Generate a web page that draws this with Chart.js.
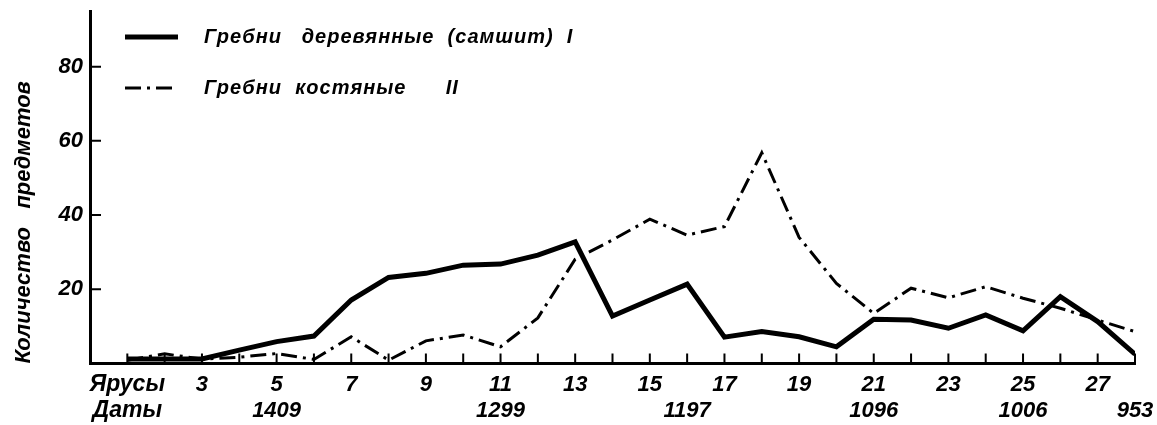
<!DOCTYPE html>
<html>
<head>
<meta charset="utf-8">
<script src="https://cdn.jsdelivr.net/npm/chart.js@4"></script>
<style>
  html, body { margin: 0; padding: 0; background: #fff; }
  #wrap { width: 1157px; height: 425px; }
</style>
</head>
<body>
<div id="wrap"><canvas id="chart" width="1157" height="425"></canvas></div>
<script>
// Ярусы (stages) 1..28
const stages = [1, 2, 3, 4, 5, 6, 7, 8, 9, 10, 11, 12, 13, 14, 15, 16, 17, 18, 19, 20, 21, 22, 23, 24, 25, 26, 27, 28];

// Гребни деревянные (самшит) — count per stage
const woodCombs = [1.2, 1.2, 1.2, 3.6, 5.9, 7.4, 17.1, 23.2, 24.3, 26.5, 26.8, 29.2, 32.8, 12.8,
                   17.1, 21.4, 7.1, 8.6, 7.2, 4.5, 11.9, 11.7, 9.5, 13.1, 8.8, 18.0, 11.3, 2.5];

// Гребни костяные — count per stage
const boneCombs = [0.9, 2.6, 1.2, 1.7, 2.7, 1.1, 7.2, 0.9, 6.1, 7.7, 4.5, 12.3, 28.1, 33.3,
                   38.9, 34.6, 36.9, 56.8, 34.0, 21.6, 13.5, 20.3, 17.7, 20.7, 17.6, 14.9, 11.7, 8.6];

// Axis ticks and their labels
const yTickValues = [20, 40, 60, 80];
const xTickValues = [1, 3, 5, 7, 9, 11, 13, 15, 16, 17, 19, 21, 23, 25, 27, 28];
const tierLabels  = ['Ярусы', '3', '5', '7', '9', '11', '13', '15', '', '17', '19', '21', '23', '25', '27', ''];
const dateLabels  = ['Даты', '', '1409', '', '', '1299', '', '', '1197', '', '', '1096', '', '1006', '', '953'];

const seriesNames = ['Гребни   деревянные  (самшит)  I', 'Гребни  костяные      II'];
const yTitle = 'Количество   предметов';

const FONT = 'Liberation Sans';
const INK = '#000';

// short tick marks pointing into the plot
const inwardTicks = {
  id: 'inwardTicks',
  beforeDatasetsDraw(chart) {
    const { ctx, scales: { x, y } } = chart;
    ctx.save();
    ctx.strokeStyle = INK;
    ctx.lineWidth = 2;
    ctx.beginPath();
    stages.forEach(v => {
      const px = x.getPixelForValue(v);
      ctx.moveTo(px, y.bottom);
      ctx.lineTo(px, y.bottom - 10);
    });
    yTickValues.forEach(v => {
      const py = y.getPixelForValue(v);
      ctx.moveTo(x.left, py);
      ctx.lineTo(x.left + 11, py);
    });
    ctx.stroke();
    ctx.restore();
  }
};

// legend drawn inside the plot, top-left
const insideLegend = {
  id: 'insideLegend',
  afterDatasetsDraw(chart) {
    const { ctx } = chart;
    const rows = [37, 88];
    ctx.save();
    chart.data.datasets.forEach((ds, i) => {
      const yy = rows[i];
      ctx.strokeStyle = ds.borderColor;
      ctx.lineWidth = ds.borderWidth;
      ctx.setLineDash(ds.borderDash || []);
      ctx.lineCap = 'butt';
      ctx.beginPath();
      ctx.moveTo(125, yy);
      ctx.lineTo(178, yy);
      ctx.stroke();
      ctx.setLineDash([]);
      ctx.fillStyle = INK;
      ctx.font = `italic bold 20px "${FONT}"`;
      ctx.letterSpacing = '1px';
      ctx.textBaseline = 'middle';
      ctx.textAlign = 'left';
      ctx.fillText(ds.label, 204, yy);
    });
    ctx.restore();
  }
};

const zeroPad = (scale) => {
  scale.paddingTop = 0;
  scale.paddingBottom = 0;
  scale.paddingLeft = 0;
  scale.paddingRight = 0;
};

new Chart(document.getElementById('chart'), {
  type: 'line',
  data: {
    datasets: [
      {
        label: seriesNames[0],
        data: stages.map((s, i) => ({ x: s, y: woodCombs[i] })),
        borderColor: INK,
        borderWidth: 5,
        pointRadius: 0,
        tension: 0,
        fill: false
      },
      {
        label: seriesNames[1],
        data: stages.map((s, i) => ({ x: s, y: boneCombs[i] })),
        borderColor: INK,
        borderWidth: 3,
        borderDash: [16, 6, 3, 6],
        pointRadius: 0,
        tension: 0,
        fill: false
      }
    ]
  },
  options: {
    responsive: false,
    animation: false,
    devicePixelRatio: 1,
    layout: { padding: { left: 0, right: 22, top: 11, bottom: 0 } },
    plugins: {
      legend: { display: false },
      tooltip: { enabled: false }
    },
    scales: {
      x: {
        type: 'linear',
        min: 0,
        max: 28,
        afterBuildTicks: (scale) => { scale.ticks = xTickValues.map(v => ({ value: v })); },
        afterFit: (scale) => { scale.height = 61.5; zeroPad(scale); },
        border: { display: true, color: INK, width: 3 },
        grid: { display: true, drawOnChartArea: false, drawTicks: false },
        ticks: {
          autoSkip: false,
          maxRotation: 0,
          padding: 8,
          color: INK,
          font: (c) => ({
            family: FONT,
            size: c.index === 0 ? 23 : 22,
            style: 'italic',
            weight: 'bold',
            lineHeight: c.index === 0 ? 1.13 : 1.18
          }),
          callback: (value) => {
            const i = xTickValues.indexOf(value);
            if (i < 0) return '';
            return dateLabels[i] ? [tierLabels[i], dateLabels[i]] : tierLabels[i];
          }
        }
      },
      y: {
        min: 0,
        max: 95,
        afterBuildTicks: (scale) => { scale.ticks = yTickValues.map(v => ({ value: v })); },
        afterFit: (scale) => { scale.width = 90; zeroPad(scale); },
        border: { display: true, color: INK, width: 3 },
        grid: { display: true, drawOnChartArea: false, drawTicks: false },
        ticks: {
          padding: 7,
          color: INK,
          font: { family: FONT, size: 22, style: 'italic', weight: 'bold' }
        },
        title: {
          display: true,
          text: yTitle,
          align: 'start',
          color: INK,
          padding: { top: 11, bottom: 0 },
          font: { family: FONT, size: 22, style: 'italic', weight: 'bold' }
        }
      }
    }
  },
  plugins: [inwardTicks, insideLegend]
});
</script>
</body>
</html>
